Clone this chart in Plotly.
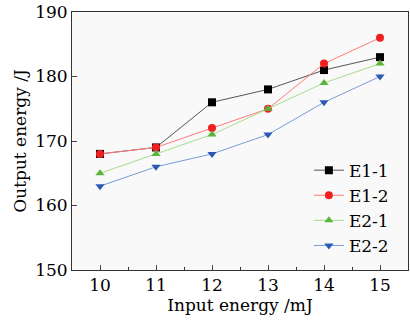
import plotly.graph_objects as go

x_vals = [10, 11, 12, 13, 14, 15]
e1_1 = [168, 169, 176, 178, 181, 183]
e1_2 = [168, 169, 172, 175, 182, 186]
e2_1 = [165, 168, 171, 175, 179, 182]
e2_2 = [163, 166, 168, 171, 176, 180]
names = ["E1-1", "E1-2", "E2-1", "E2-2"]

series = [e1_1, e1_2, e2_1, e2_2]
line_colors = ["#555555", "#ff7b7b", "#a8dc8c", "#7b9bd8"]
marker_colors = ["#000000", "#f02020", "#5ab43a", "#2a5ab4"]
symbols = ["square", "circle", "triangle-up", "triangle-down"]

font_family = "DejaVu Serif"

fig = go.Figure()
for name, ys, lc, mc, sym in zip(names, series, line_colors, marker_colors, symbols):
    fig.add_trace(go.Scatter(
        x=x_vals, y=ys, name=name, mode="lines+markers",
        line=dict(color=lc, width=1),
        marker=dict(color=mc, symbol=sym, size=8, line=dict(width=0)),
    ))

fig.update_layout(
    width=410, height=325,
    margin=dict(l=72, r=2, t=12, b=55),
    paper_bgcolor="white",
    plot_bgcolor="#f9f9f9",
    font=dict(family=font_family, size=17, color="black"),
    showlegend=True,
    legend=dict(
        x=0.705, y=0.455, xanchor="left", yanchor="top",
        bgcolor="rgba(255,255,255,0)",
        font=dict(family=font_family, size=17),
        tracegroupgap=0, itemwidth=30,
    ),
    xaxis=dict(
        range=[9.5, 15.5], tickvals=x_vals, ticks="inside", ticklen=5,
        minor=dict(ticks="inside", ticklen=3, dtick=0.5, tick0=0.5, tickcolor="#333"),
        showline=True, linecolor="#333", linewidth=1, mirror=True,
        showgrid=False, zeroline=False,
        title=dict(text="Input energy /mJ", standoff=2, font=dict(size=17)),
        tickfont=dict(size=17),
    ),
    yaxis=dict(
        range=[150, 190], dtick=10, ticks="inside", ticklen=5,
        showline=True, linecolor="#333", linewidth=1, mirror=True,
        showgrid=False, zeroline=False,
        title=dict(text="Output energy /J", standoff=4, font=dict(size=17)),
        tickfont=dict(size=17),
    ),
)

fig.write_html("out.html", post_script="document.body.style.margin='0';",
               config={"displayModeBar": False})
